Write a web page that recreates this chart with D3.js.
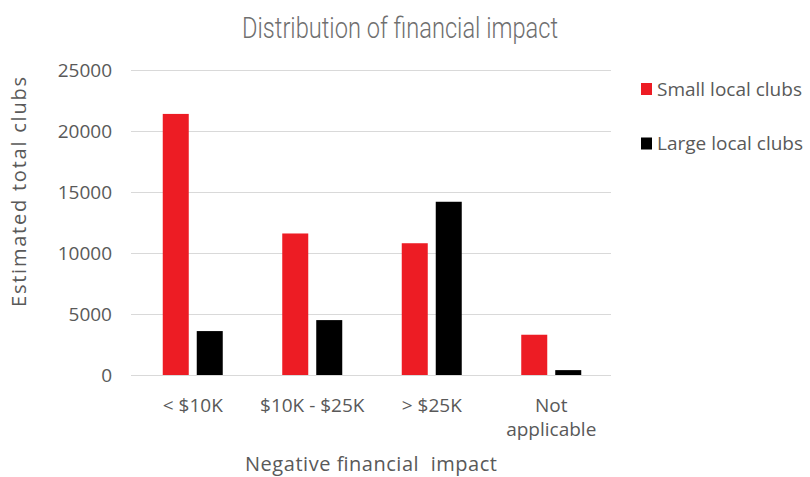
<!DOCTYPE html>
<html>
<head>
<meta charset="utf-8">
<script src="https://cdn.jsdelivr.net/npm/d3@7"></script>
<style>
  body { margin: 0; background: #fff; }
  svg text { font-family: "Open Sans", sans-serif; fill: #595959; }
  .title { font-family: "Roboto", "Open Sans", sans-serif; font-weight: 300; }
</style>
</head>
<body>
<div id="chart"></div>
<script>
// Data
var categories = ["< $10K", "$10K - $25K", "> $25K", "Not applicable"];
var seriesNames = ["Small local clubs", "Large local clubs"];
var smallClubs = [21400, 11600, 10800, 3300];
var largeClubs = [3600, 4500, 14200, 400];
var yTicks = [0, 5000, 10000, 15000, 20000, 25000];

var colors = ["#ed1c24", "#000000"];

var width = 810, height = 477;
var margin = {top: 70, right: 200, bottom: 102, left: 133};

var svg = d3.select("#chart")
            .append("svg")
            .attr("width", width)
            .attr("height", height);

// Scales
var x0 = d3.scaleBand()
           .domain(categories)
           .range([margin.left, width - margin.right + 1])
           .padding(0);

var groupWidth = 60;
var x1 = d3.scaleBand()
           .domain(seriesNames)
           .range([0, groupWidth])
           .paddingInner(0.235)
           .paddingOuter(0);

var y = d3.scaleLinear()
          .domain([0, 25000])
          .range([height - margin.bottom, margin.top]);

// Gridlines
svg.append("g")
   .selectAll("line")
   .data(yTicks)
   .enter()
   .append("line")
   .attr("x1", margin.left - 2)
   .attr("x2", width - margin.right + 1)
   .attr("y1", function(d) { return y(d) + 0.5; })
   .attr("y2", function(d) { return y(d) + 0.5; })
   .attr("stroke", "#d9d9d9")
   .attr("stroke-width", 1);

// Y axis tick labels
svg.append("g")
   .selectAll("text")
   .data(yTicks)
   .enter()
   .append("text")
   .attr("x", 112)
   .attr("y", function(d) { return y(d); })
   .attr("dy", "0.35em")
   .attr("text-anchor", "end")
   .style("font-size", "19px")
   .text(function(d) { return d; });

// Bars
var rows = categories.map(function(c, i) {
  return {cat: c, values: [smallClubs[i], largeClubs[i]]};
});

var groups = svg.append("g")
   .selectAll("g")
   .data(rows)
   .enter()
   .append("g")
   .attr("transform", function(d) {
     return "translate(" + (x0(d.cat) + x0.bandwidth() / 2 - groupWidth / 2) + ",0)";
   });

groups.selectAll("rect")
   .data(function(d) { return d.values.map(function(v, j) { return {name: seriesNames[j], value: v, idx: j}; }); })
   .enter()
   .append("rect")
   .attr("x", function(d) { return x1(d.name); })
   .attr("width", x1.bandwidth())
   .attr("y", function(d) { return y(d.value); })
   .attr("height", function(d) { return y(0) - y(d.value); })
   .attr("fill", function(d) { return colors[d.idx]; });

// X category labels (wrap "Not applicable")
var xLabels = svg.append("g")
   .selectAll("text")
   .data(categories)
   .enter()
   .append("text")
   .attr("text-anchor", "middle")
   .attr("x", function(d) { return x0(d) + x0.bandwidth() / 2; })
   .attr("y", 412)
   .style("font-size", "19px");

xLabels.each(function(d) {
  var t = d3.select(this);
  var lines = d === "Not applicable" ? ["Not", "applicable"] : [d];
  lines.forEach(function(l, i) {
    t.append("tspan")
     .attr("x", t.attr("x"))
     .attr("dy", i === 0 ? 0 : 24)
     .text(l);
  });
});

// Axis titles
svg.append("text")
   .attr("x", 371)
   .attr("y", 471)
   .attr("text-anchor", "middle")
   .attr("textLength", 252)
   .attr("xml:space", "preserve")
   .style("font-size", "20px")
   .text("Negative financial  impact");

svg.append("text")
   .attr("transform", "translate(26,192) rotate(-90)")
   .attr("text-anchor", "middle")
   .attr("textLength", 230)
   .style("font-size", "20px")
   .text("Estimated total clubs");

// Title
svg.append("text")
   .attr("class", "title")
   .attr("x", 400)
   .attr("y", 38)
   .attr("text-anchor", "middle")
   .attr("textLength", 316)
   .attr("lengthAdjust", "spacingAndGlyphs")
   .style("font-size", "29px")
   .style("fill", "#6f6f6f")
   .text("Distribution of financial impact");

// Legend
var legend = svg.append("g")
   .selectAll("g")
   .data(seriesNames)
   .enter()
   .append("g")
   .attr("transform", function(d, i) { return "translate(641," + (89 + i * 54.5) + ")"; });

legend.append("rect")
   .attr("x", 0)
   .attr("y", -6)
   .attr("width", 11)
   .attr("height", 12)
   .attr("fill", function(d, i) { return colors[i]; });

legend.append("text")
   .attr("x", 16)
   .attr("y", 0)
   .attr("dy", "0.35em")
   .style("font-size", "19px")
   .text(function(d) { return d; });
</script>
</body>
</html>
